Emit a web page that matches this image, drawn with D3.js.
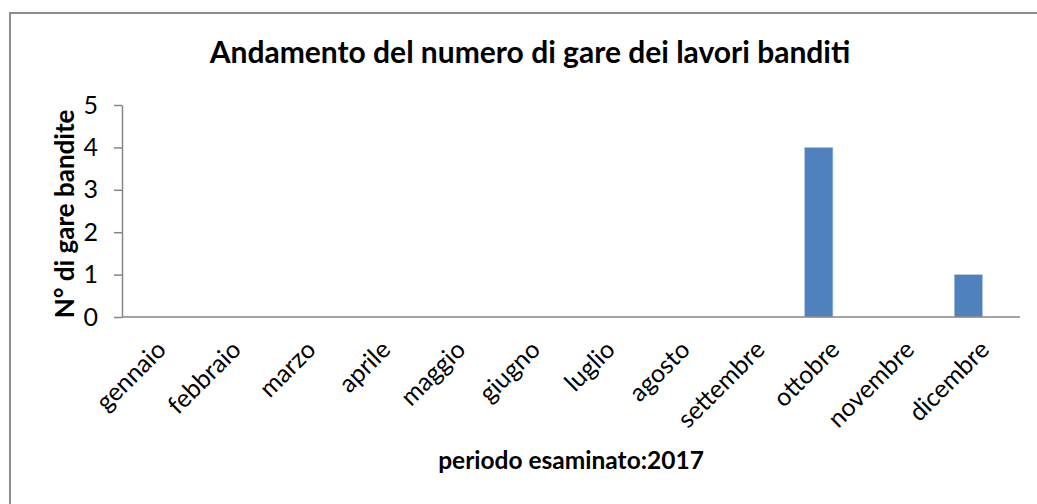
<!DOCTYPE html>
<html>
<head>
<meta charset="utf-8">
<script src="https://cdn.jsdelivr.net/npm/d3@7"></script>
<style>
  body { margin: 0; background: #fff; }
  svg { display: block; font-family: Lato, "Open Sans", sans-serif; }
</style>
</head>
<body>
<div id="chart"></div>
<script>
// data
var months = ["gennaio", "febbraio", "marzo", "aprile", "maggio", "giugno",
              "luglio", "agosto", "settembre", "ottobre", "novembre", "dicembre"];
var gareBandite = [0, 0, 0, 0, 0, 0, 0, 0, 0, 4, 0, 1];
var seriesNames = ["gare", "vuota"];
var yTicks = [0, 1, 2, 3, 4, 5];

var title = "Andamento del numero di gare dei lavori banditi";
var xTitle = "periodo esaminato:2017";
var yTitle = "N° di gare bandite";

// dimensions
var W = 1037, H = 504;
var plot = {left: 122, right: 1020, top: 105, bottom: 317};

var svg = d3.select("#chart").append("svg")
  .attr("width", W)
  .attr("height", H);

// outer border
svg.append("rect")
  .attr("x", 10).attr("y", 13)
  .attr("width", W).attr("height", H)
  .attr("fill", "none")
  .attr("stroke", "#8c8c8c")
  .attr("stroke-width", 2);

// scales
var x = d3.scaleBand().domain(months).range([plot.left, plot.right]).padding(0);
var x1 = d3.scaleBand().domain(seriesNames).range([0, x.bandwidth()])
  .paddingInner(0).paddingOuter(0.32);
var y = d3.scaleLinear().domain([0, 5]).range([plot.bottom, plot.top]);

// bars
svg.append("g").selectAll("rect")
  .data(gareBandite)
  .enter().append("rect")
  .attr("x", function(d, i) { return x(months[i]) + x1("gare"); })
  .attr("y", function(d) { return y(d); })
  .attr("width", x1.bandwidth())
  .attr("height", function(d) { return y(0) - y(d); })
  .attr("fill", "#4f81bd")
  .attr("stroke", "#bcd0ea")
  .attr("stroke-width", 0.6);

// y axis
var yAxis = svg.append("g")
  .attr("transform", "translate(" + plot.left + ",0)")
  .call(d3.axisLeft(y).tickValues(yTicks).tickFormat(d3.format("d"))
    .tickSize(8).tickSizeOuter(0).tickPadding(16));
yAxis.select(".domain").attr("stroke", "#868686").attr("stroke-width", 1.5);
yAxis.selectAll(".tick line").attr("stroke", "#868686").attr("stroke-width", 1.5);
yAxis.selectAll(".tick text")
  .style("font-family", "Lato, sans-serif")
  .style("font-size", "25px")
  .attr("fill", "#000");

// x axis line (no ticks)
svg.append("line")
  .attr("x1", plot.left).attr("x2", plot.right)
  .attr("y1", y(0)).attr("y2", y(0))
  .attr("stroke", "#868686").attr("stroke-width", 1.5);

// month labels
svg.append("g").selectAll("text")
  .data(months)
  .enter().append("text")
  .attr("transform", function(d) {
    return "translate(" + (x(d) + x.bandwidth() / 2 + 2) + "," + (y(0) + 28) + ") rotate(-45)";
  })
  .attr("text-anchor", "end")
  .attr("dy", "0.35em")
  .style("font-size", "25px")
  .attr("fill", "#000")
  .text(function(d) { return d; });

// titles
svg.append("text")
  .attr("x", 530).attr("y", 63)
  .attr("text-anchor", "middle")
  .attr("font-weight", "bold")
  .style("font-size", "30px")
  .text(title);

svg.append("text")
  .attr("x", 571).attr("y", 469)
  .attr("text-anchor", "middle")
  .attr("font-weight", "bold")
  .style("font-size", "24.5px")
  .text(xTitle);

svg.append("text")
  .attr("transform", "translate(74,214) rotate(-90)")
  .attr("text-anchor", "middle")
  .attr("font-weight", "bold")
  .style("font-size", "26px")
  .text(yTitle);
</script>
</body>
</html>
